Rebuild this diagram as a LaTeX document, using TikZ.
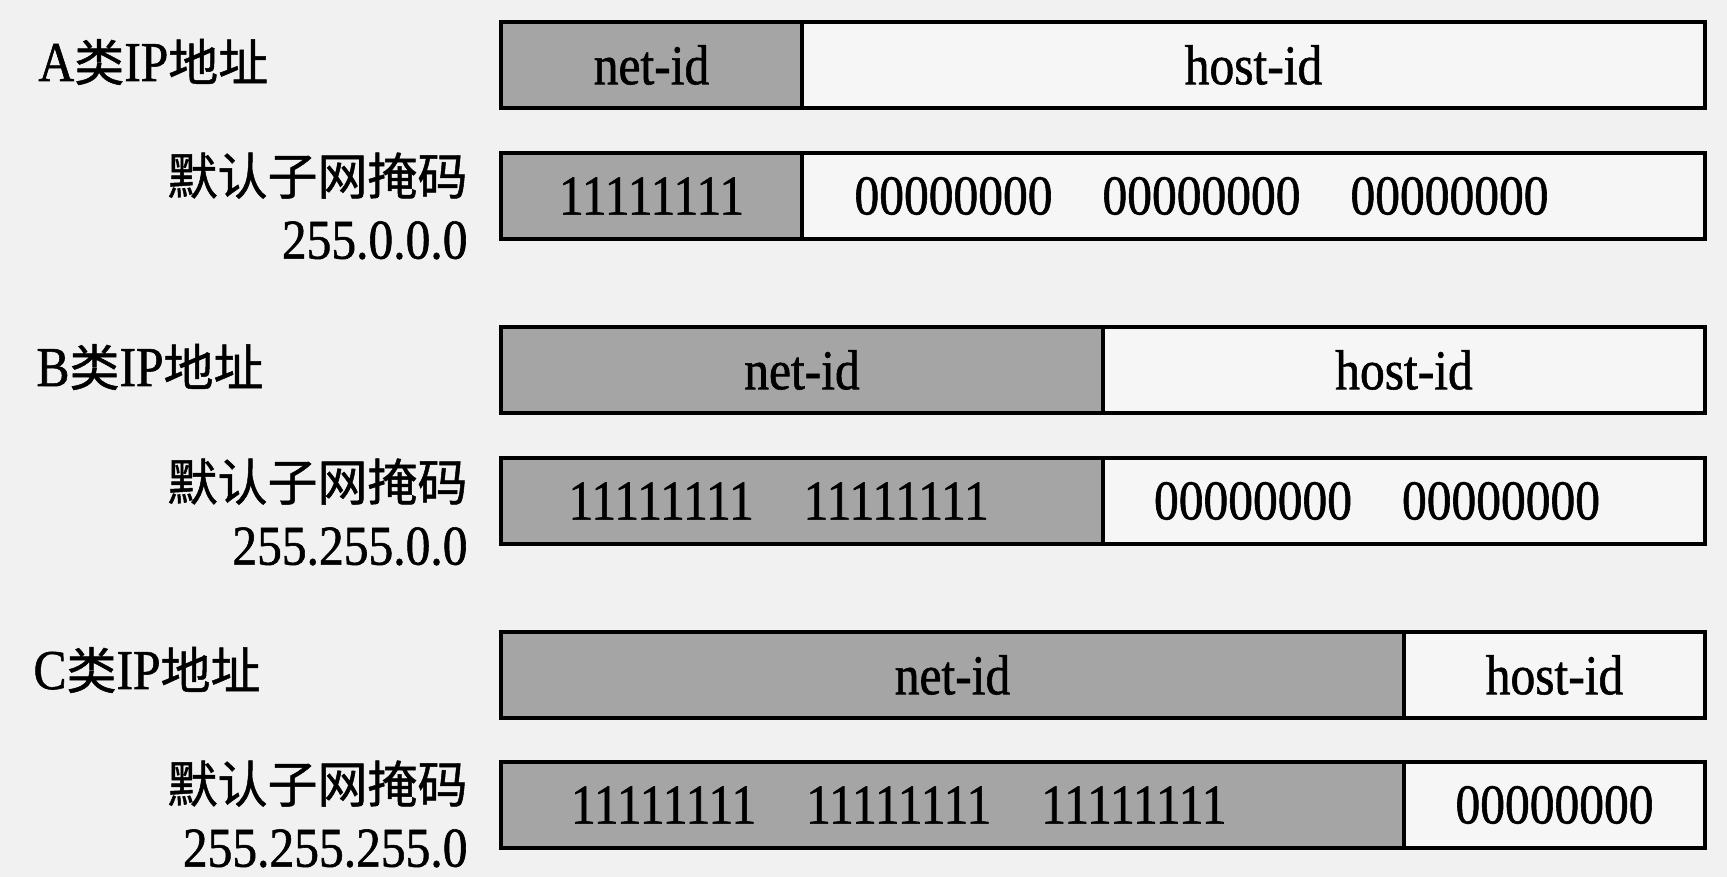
\documentclass[tikz,border=0pt]{standalone}
\usepackage{fontspec}
\setmainfont{Liberation Serif}[FakeStretch=0.88, FakeBold=1]
\newfontfamily\cjk{Noto Sans CJK SC}[FakeBold=1]
\usetikzlibrary{positioning, calc}
\definecolor{paperGray}{RGB}{241,241,241}
\definecolor{hostWhite}{RGB}{246,246,246}
\definecolor{netGray}{RGB}{165,165,165}
\tikzstyle{netPart}   = [rectangle,
                         anchor=north west,
                         minimum height=34.4pt,
                         inner sep=0pt,
                         outer sep=0pt,
                         text centered,
                         line width=1.3pt,
                         draw=black,
                         fill=netGray,
                         font=\fontsize{22.5}{27}\selectfont]
\tikzstyle{hostPart}  = [rectangle,
                         anchor=west,
                         minimum height=34.4pt,
                         inner sep=0pt,
                         outer sep=0pt,
                         text centered,
                         line width=1.3pt,
                         draw=black,
                         fill=hostWhite,
                         font=\fontsize{22.5}{27}\selectfont]
\tikzstyle{classLabel} = [anchor=west,
                          inner sep=0pt,
                          font=\fontsize{22.5}{27}\selectfont]
\tikzstyle{maskLabel}  = [anchor=east,
                          inner sep=0pt,
                          align=right,
                          font=\fontsize{22.5}{25.6}\selectfont]
\newcommand{\gap}{\hspace{20pt}}
\newcommand{\han}[1]{{\cjk\fontsize{20}{25.6}\selectfont #1}}

\begin{document}
\begin{tikzpicture}[x=0.4pt, y=-0.4pt]
        \fill [paperGray] (0,0) rectangle (1727,877);
        \useasboundingbox (0,0) rectangle (1727,877);

        % class A
        \node [classLabel] (labelA) at (38,62) {A\han{类}IP\han{地址}};
        \node [netPart, minimum width=120.4pt] (netA) at (501,22) {net-id};
        \node [hostPart, minimum width=361.2pt] (hostA) at (netA.east) {host-id};

        \node [maskLabel] (maskLabelA) at (468,206) {\han{默认子网掩码}\\255.0.0.0};
        \node [netPart, minimum width=120.4pt] (maskNetA) at (501,153) {11111111};
        \node [hostPart, text width=319.2pt, inner xsep=21pt, align=left] (maskHostA)
            at (maskNetA.east) {00000000\gap 00000000\gap 00000000};

        % class B
        \node [classLabel] (labelB) at (36,367) {B\han{类}IP\han{地址}};
        \node [netPart, minimum width=240.8pt] (netB) at (501,327) {net-id};
        \node [hostPart, minimum width=240.8pt] (hostB) at (netB.east) {host-id};

        \node [maskLabel] (maskLabelB) at (468,512) {\han{默认子网掩码}\\255.255.0.0};
        \node [netPart, text width=186.8pt, inner xsep=27pt, align=left] (maskNetB)
            at (501,458) {11111111\gap 11111111};
        \node [hostPart, text width=200pt, inner xsep=20.4pt, align=left] (maskHostB)
            at (maskNetB.east) {00000000\gap 00000000};

        % class C
        \node [classLabel] (labelC) at (33,670) {C\han{类}IP\han{地址}};
        \node [netPart, minimum width=361.2pt] (netC) at (501,632) {net-id};
        \node [hostPart, minimum width=120.4pt] (hostC) at (netC.east) {host-id};

        \node [maskLabel] (maskLabelC) at (468,814) {\han{默认子网掩码}\\255.255.255.0};
        \node [netPart, text width=305.2pt, inner xsep=28pt, align=left] (maskNetC)
            at (501,762) {11111111\gap 11111111\gap 11111111};
        \node [hostPart, minimum width=120.4pt] (maskHostC) at (maskNetC.east) {00000000};

    \end{tikzpicture}
\end{document}
